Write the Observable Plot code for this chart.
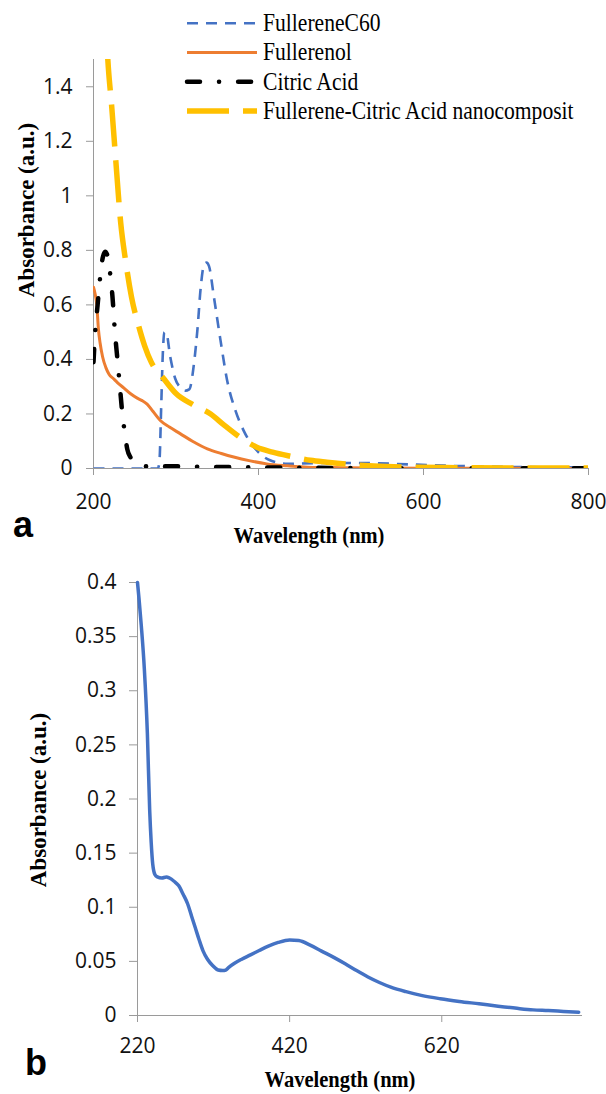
<!DOCTYPE html>
<html><head><meta charset="utf-8">
<script src="https://cdn.jsdelivr.net/npm/d3@7"></script>
<script src="https://cdn.jsdelivr.net/npm/@observablehq/plot@0.6"></script>
<style>
html,body{margin:0;padding:0;background:#fff;}
#wrap{position:relative;width:606px;height:1094px;overflow:hidden;background:#fff;}
.abs{position:absolute;}
.ttl{position:absolute;font-family:"Liberation Serif","Times New Roman",serif;font-weight:bold;color:#000;white-space:nowrap;line-height:1;}
.pnl{position:absolute;font-family:"Liberation Sans",Arial,sans-serif;font-weight:bold;color:#000;line-height:1;}
</style></head><body><div id="wrap"></div>
<script>
// ---------- Panel a data ----------
const seriesNames = ["FullereneC60", "Fullerenol", "Citric Acid", "Fullerene-Citric Acid nanocomposit"];

const c60Wavelength = [200, 278, 280, 282, 284, 286, 288, 293, 299, 305, 311, 316, 322, 326, 330, 334, 337, 340, 346, 354, 362, 372, 382, 398, 414, 435, 470, 527, 584, 637, 700, 800];
const c60Absorbance = [0, 0, 0.03, 0.22, 0.42, 0.5, 0.5, 0.41, 0.33, 0.298, 0.285, 0.29, 0.39, 0.51, 0.665, 0.748, 0.755, 0.742, 0.628, 0.469, 0.323, 0.213, 0.139, 0.066, 0.03, 0.017, 0.02, 0.02, 0.015, 0.01, 0.006, 0.004];

const fullerenolWavelength = [200, 202, 204, 206, 208, 211, 215, 219, 224, 229, 237, 245, 253, 259, 265, 272, 281, 292, 305, 320, 338, 355, 370, 390, 410, 435, 460, 500, 600, 800];
const fullerenolAbsorbance = [0.665, 0.64, 0.6, 0.51, 0.46, 0.41, 0.37, 0.345, 0.33, 0.315, 0.295, 0.274, 0.258, 0.249, 0.236, 0.21, 0.176, 0.152, 0.128, 0.1, 0.072, 0.055, 0.042, 0.028, 0.017, 0.01, 0.005, 0.003, 0.001, 0];

const citricWavelength = [200, 202, 205, 208, 211, 214, 217, 220, 223, 226, 229, 232, 235, 238, 241, 245, 250, 256, 265, 280, 300, 340, 400, 500, 600, 800];
const citricAbsorbance = [0.39, 0.5, 0.6, 0.7, 0.77, 0.795, 0.78, 0.72, 0.63, 0.5, 0.4, 0.3, 0.2, 0.13, 0.07, 0.04, 0.02, 0.012, 0.008, 0.008, 0.008, 0.006, 0.004, 0.002, 0.001, 0.001];

const compositeWavelength = [210, 215, 218, 222, 227, 233, 239, 246, 255, 262, 270, 285, 300, 320, 342, 358, 375, 398, 417, 440, 463, 483, 510, 540, 580, 640, 720, 800];
const compositeAbsorbance = [1.95, 1.62, 1.47, 1.33, 1.13, 0.9, 0.76, 0.63, 0.52, 0.45, 0.39, 0.33, 0.275, 0.235, 0.2, 0.16, 0.12, 0.078, 0.06, 0.044, 0.03, 0.023, 0.015, 0.009, 0.005, 0.003, 0.002, 0.002];

const xTicksA = [200, 400, 600, 800];
const yTicksA = [0, 0.2, 0.4, 0.6, 0.8, 1, 1.2, 1.4];
const xDomainA = [200, 800];
const yDomainA = [0, 1.5];

// ---------- Panel b data ----------
const bWavelength = [220, 222, 225, 229, 233, 236, 238, 240, 243, 246, 252, 258, 262, 268, 274, 280, 286, 291, 296, 301, 306, 312, 319, 326, 332, 336, 340, 347, 357, 367, 380, 392, 405, 420, 432, 447, 462, 478, 493, 508, 523, 538, 553, 573, 593, 618, 643, 669, 694, 719, 740, 760, 780, 800];
const bAbsorbance = [0.4, 0.385, 0.36, 0.32, 0.26, 0.19, 0.16, 0.14, 0.13, 0.128, 0.127, 0.128, 0.127, 0.124, 0.12, 0.112, 0.103, 0.092, 0.081, 0.07, 0.06, 0.052, 0.046, 0.042, 0.0415, 0.042, 0.0445, 0.048, 0.052, 0.0555, 0.06, 0.064, 0.0675, 0.0698, 0.0692, 0.065, 0.0595, 0.0537, 0.0478, 0.0415, 0.0356, 0.0305, 0.0262, 0.022, 0.0186, 0.0155, 0.013, 0.0108, 0.0086, 0.0066, 0.0052, 0.0046, 0.0038, 0.003];

const xTicksB = [220, 420, 620];
const yTicksB = [0, 0.05, 0.1, 0.15, 0.2, 0.25, 0.3, 0.35, 0.4];
const xDomainB = [220, 805];
const yDomainB = [0, 0.4];

// ---------- styles ----------
const colors = ["#4472C4", "#ED7D31", "#000000", "#FFC000"];
const widths = [2.6, 3, 4.5, 5.5];
const dashes = ["11,8", null, "13,19,0.1,19", "42,14"];
const caps = ["butt", "round", "round", "butt"];
const axisGray = "#9a9a9a";
const fmt = d => d3.format("~g")(d);

const wrap = document.getElementById("wrap");
const toRows = (wl, ab) => wl.map((w, i) => ({w, a: ab[i]}));
const seriesA = [
  toRows(c60Wavelength, c60Absorbance),
  toRows(fullerenolWavelength, fullerenolAbsorbance),
  toRows(citricWavelength, citricAbsorbance),
  toRows(compositeWavelength, compositeAbsorbance)
];

const plotA = Plot.plot({
  width: 606, height: 520,
  marginLeft: 93, marginRight: 18, marginTop: 59, marginBottom: 52,
  x: {domain: xDomainA}, y: {domain: yDomainA},
  style: {fontSize: "21px", fontFamily: "'Open Sans'", color: "#111", background: "transparent", overflow: "visible"},
  marks: [
    Plot.ruleY([yDomainA[0]], {x1: xDomainA[0], x2: xDomainA[1], stroke: axisGray}),
    Plot.ruleX([xDomainA[0]], {y1: yDomainA[0], y2: yDomainA[1], stroke: axisGray}),
    Plot.axisY({ticks: yTicksA, tickSize: 7, tickPadding: 14, tickFormat: fmt, label: null, stroke: axisGray, fill: "#111"}),
    Plot.axisX({ticks: xTicksA, tickSize: 7, tickPadding: 19, tickFormat: fmt, label: null, stroke: axisGray, fill: "#111"}),
    ...seriesA.map((rows, i) => Plot.line(rows, {
      x: "w", y: "a", stroke: colors[i], strokeWidth: widths[i],
      strokeDasharray: dashes[i] || undefined, strokeLinecap: caps[i],
      curve: "monotone-x", clip: true
    }))
  ]
});
plotA.style.position = "absolute"; plotA.style.left = "0px"; plotA.style.top = "0px";
wrap.appendChild(plotA);

const plotB = Plot.plot({
  width: 606, height: 500,
  marginLeft: 137, marginRight: 24, marginTop: 22, marginBottom: 45,
  x: {domain: xDomainB}, y: {domain: yDomainB},
  style: {fontSize: "21px", fontFamily: "'Open Sans'", color: "#111", background: "transparent", overflow: "visible"},
  marks: [
    Plot.ruleY([yDomainB[0]], {x1: xDomainB[0], x2: xDomainB[1], stroke: axisGray}),
    Plot.ruleX([xDomainB[0]], {y1: yDomainB[0], y2: yDomainB[1], stroke: axisGray}),
    Plot.axisY({ticks: yTicksB, tickSize: 8, tickPadding: 13, tickFormat: fmt, label: null, stroke: axisGray, fill: "#111"}),
    Plot.axisX({ticks: xTicksB, tickSize: 7, tickPadding: 16, tickFormat: fmt, label: null, stroke: axisGray, fill: "#111"}),
    Plot.line(toRows(bWavelength, bAbsorbance), {x: "w", y: "a", stroke: colors[0], strokeWidth: 3.5, curve: "monotone-x"})
  ]
});
plotB.style.position = "absolute"; plotB.style.left = "0px"; plotB.style.top = "560px";
wrap.appendChild(plotB);

// ---------- legend ----------
const leg = d3.select(wrap).append("svg").attr("class", "abs")
  .style("left", "0px").style("top", "0px").attr("width", 606).attr("height", 130);
seriesNames.forEach((name, i) => {
  const y = 23.3 + i * 29.2;
  leg.append("line").attr("x1", 187).attr("x2", 257).attr("y1", y).attr("y2", y)
    .attr("stroke", colors[i]).attr("stroke-width", widths[i])
    .attr("stroke-dasharray", dashes[i]).attr("stroke-linecap", caps[i] === "round" && !dashes[i] ? "butt" : caps[i]);
  leg.append("text").attr("transform", `translate(263,${y}) scale(1,1.12)`)
    .attr("dominant-baseline", "central")
    .style("font-family", "'Liberation Serif','Times New Roman',serif").style("font-size", "21.6px")
    .text(name);
});

// ---------- titles ----------
function addText(cls, txt, cx, cy, size, extra) {
  const d = document.createElement("div");
  d.className = cls; d.textContent = txt;
  d.style.left = cx + "px"; d.style.top = cy + "px"; d.style.fontSize = size + "px";
  d.style.transform = "translate(-50%,-50%) " + (extra || "");
  wrap.appendChild(d);
}
addText("ttl", "Absorbance (a.u.)", 26, 210, 23, "rotate(-90deg)");
addText("ttl", "Wavelength (nm)", 309, 535, 20.5, "scaleY(1.12)");
addText("ttl", "Absorbance (a.u.)", 38, 800, 23, "rotate(-90deg)");
addText("ttl", "Wavelength (nm)", 340, 1080, 20.5, "scaleY(1.08)");
addText("pnl", "a", 23, 525, 36, "");
addText("pnl", "b", 36, 1063, 36, "");
</script></body></html>
